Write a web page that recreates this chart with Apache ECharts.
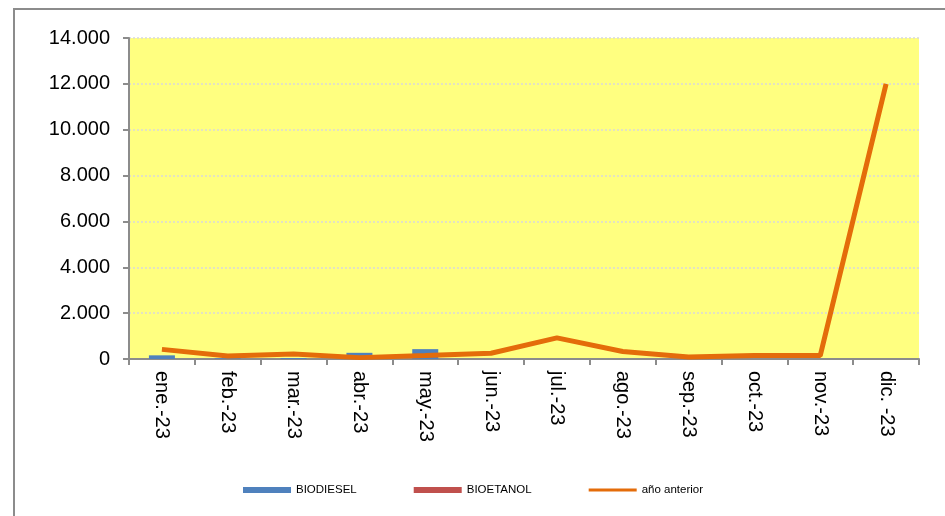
<!DOCTYPE html>
<html>
<head>
<meta charset="utf-8">
<script src="https://cdn.jsdelivr.net/npm/echarts@6/dist/echarts.min.js"></script>
<style>
  html, body { margin: 0; padding: 0; background: #fff; }
  #chart { width: 945px; height: 516px; }
</style>
</head>
<body>
<div id="chart"></div>
<script>
const months = ['ene.-23', 'feb.-23', 'mar.-23', 'abr.-23', 'may.-23', 'jun.-23',
  'jul.-23', 'ago.-23', 'sep.-23', 'oct.-23', 'nov.-23', 'dic. -23'];
const biodiesel = [160, 30, 40, 270, 430, 0, 0, 0, 0, 0, 0, 0];
const bioetanol = [0, 0, 0, 0, 0, 0, 0, 0, 0, 0, 0, 0];
const anioAnterior = [420, 130, 220, 60, 150, 250, 920, 330, 90, 150, 150, 12000];

const chart = echarts.init(document.getElementById('chart'));

const option = {
  animation: false,
  textStyle: { fontFamily: '"Liberation Sans", Arial, sans-serif' },
  graphic: [{
    type: 'rect',
    shape: { x: 14, y: 9, width: 1000, height: 600 },
    style: { fill: 'none', stroke: '#8c8c8c', lineWidth: 2 },
    silent: true
  }],
  legend: {
    left: 238,
    top: 479,
    itemWidth: 48,
    itemHeight: 6,
    itemGap: 57,
    symbolKeepAspect: true,
    textStyle: { fontSize: 11.5, color: '#000' },
    data: [
      { name: 'BIODIESEL', icon: 'rect' },
      { name: 'BIOETANOL', icon: 'rect' },
      { name: 'año anterior', icon: 'path://M0,0L48,0L48,3L0,3Z' }
    ]
  },
  grid: { left: 129, top: 38, right: 26, bottom: 157, show: true, backgroundColor: '#ffff80', borderWidth: 0 },
  xAxis: {
    type: 'category',
    data: months,
    axisLine: { lineStyle: { color: '#8c8c8c', width: 2 } },
    axisTick: { show: true, length: 6, lineStyle: { color: '#8c8c8c', width: 2 } },
    axisLabel: { rotate: -90, fontSize: 20, color: '#000', margin: 12, interval: 0 }
  },
  yAxis: {
    type: 'value',
    min: 0,
    max: 14000,
    interval: 2000,
    axisLine: { show: true, lineStyle: { color: '#8c8c8c', width: 2 } },
    axisTick: { show: true, length: 6, lineStyle: { color: '#8c8c8c', width: 2 } },
    axisLabel: {
      fontSize: 20, color: '#000', margin: 19,
      formatter: v => v === 0 ? '0' : (v / 1000).toFixed(0) + '.000'
    },
    splitLine: { lineStyle: { color: '#d9d9d9', type: [2, 2], width: 1.5 } }
  },
  series: [
    {
      name: 'BIODIESEL',
      type: 'bar',
      stack: 'total',
      barWidth: 26,
      color: '#4f81bd',
      data: biodiesel
    },
    {
      name: 'BIOETANOL',
      type: 'bar',
      stack: 'total',
      barWidth: 26,
      color: '#c0504d',
      data: bioetanol
    },
    {
      name: 'año anterior',
      type: 'line',
      color: '#e46c0a',
      symbol: 'none',
      lineStyle: { width: 5, color: '#e46c0a' },
      data: anioAnterior
    }
  ]
};

chart.setOption(option);
window.addEventListener('resize', () => chart.resize());
</script>
</body>
</html>
